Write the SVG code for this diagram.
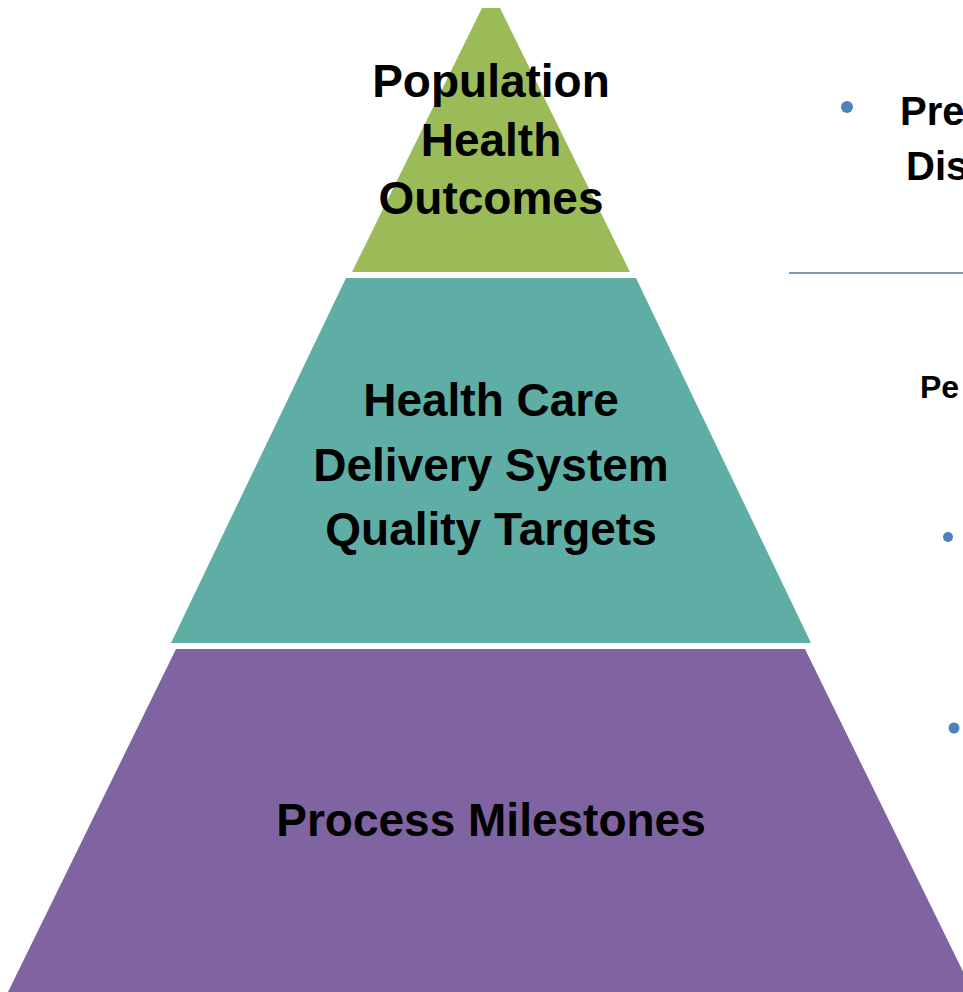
<svg xmlns="http://www.w3.org/2000/svg" width="963" height="992" viewBox="0 0 963 992">
<style>
.lbl{font-family:"Liberation Sans",Arial,sans-serif;font-weight:bold;fill:#000;text-anchor:middle;font-size:46px}
.side{font-family:"Liberation Sans",Arial,sans-serif;font-weight:bold;fill:#000}
.bul{fill:#4f81bd}
</style>
<rect width="963" height="992" fill="#fff"/>
<g id="tier-top">
<polygon points="482,8 500,8 630,272 352,272" fill="#9bbb59"/>
<text class="lbl" x="491" y="97">Population</text>
<text class="lbl" x="491" y="156">Health</text>
<text class="lbl" x="491" y="214">Outcomes</text>
</g>
<g id="tier-middle">
<polygon points="346,278 636,278 811,643 171,643" fill="#5eaea6"/>
<text class="lbl" x="491" y="416">Health Care</text>
<text class="lbl" x="491" y="481">Delivery System</text>
<text class="lbl" x="491" y="545">Quality Targets</text>
</g>
<g id="tier-bottom">
<polygon points="176,649 805,649 973,992 8,992" fill="#8064a2"/>
<text class="lbl" x="491" y="836">Process Milestones</text>
</g>
<g id="side">
<circle class="bul" cx="847" cy="107" r="6"/>
<text class="side" x="900" y="125" font-size="40">Pre</text>
<text class="side" x="906" y="180" font-size="40">Dis</text>
<line x1="789" y1="273" x2="963" y2="273" stroke="#7a9bb3" stroke-width="2"/>
<text class="side" x="920" y="398" font-size="32">Pe</text>
<circle class="bul" cx="948" cy="537" r="5"/>
<circle class="bul" cx="954" cy="728" r="5.5"/>
</g>
</svg>
